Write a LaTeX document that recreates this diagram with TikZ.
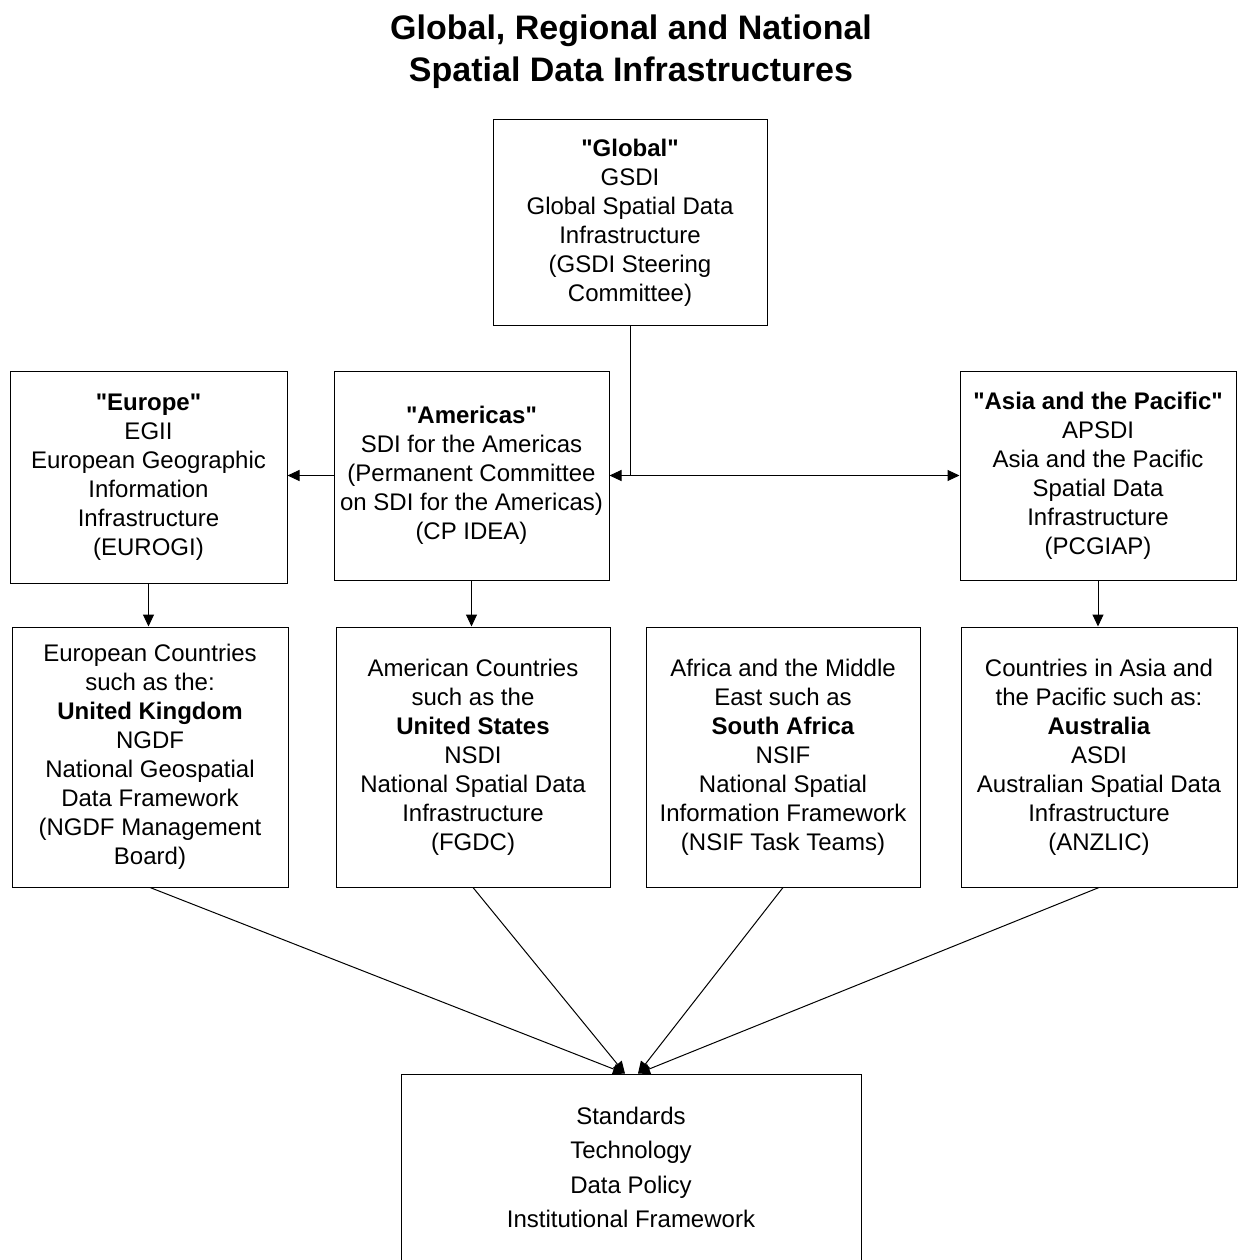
\documentclass[tikz,border=0pt]{standalone}
\usepackage{fontspec}
\setmainfont{Liberation Sans}
\newfontfamily\plainqf{Liberation Sans}
\usetikzlibrary{arrows.meta}
\newcommand{\qq}{{\plainqf"}}
\begin{document}
\begin{tikzpicture}[x=1pt,y=-1pt,
  box/.style={draw=black,line width=1pt,inner sep=0pt,align=center,
    font=\fontsize{24}{29}\selectfont},
  arr/.style={draw=black,line width=1pt,-{Triangle[length=12pt,width=11pt]}},
  ttl/.style={align=center,font=\fontsize{34}{42}\selectfont\bfseries}]
\useasboundingbox (0,0) rectangle (1242,1260);
\node[ttl] (title) at (631,52) {Global, Regional and National\\Spatial Data Infrastructures};
\node[box,minimum width=274pt,minimum height=205pt] (glob) at (630,222.5)
  {\textbf{\qq Global\qq}\\GSDI\\Global Spatial Data\\Infrastructure\\(GSDI Steering\\Committee)};
\node[box,minimum width=277pt,minimum height=212pt] (eur) at (148.5,477)
  {\textbf{\qq Europe\qq}\\EGII\\European Geographic\\Information\\Infrastructure\\(EUROGI)};
\node[box,minimum width=275pt,minimum height=209pt] (amer) at (471.5,475.5)
  {\textbf{\qq Americas\qq}\\SDI for the Americas\\(Permanent Committee\\on SDI for the Americas)\\(CP IDEA)};
\node[box,minimum width=276pt,minimum height=209pt] (asia) at (1098,475.5)
  {\textbf{\qq Asia and the Pacific\qq}\\APSDI\\Asia and the Pacific\\Spatial Data\\Infrastructure\\(PCGIAP)};
\node[box,minimum width=276pt,minimum height=260pt] (ec) at (150,757)
  {European Countries\\such as the:\\\textbf{United Kingdom}\\NGDF\\National Geospatial\\Data Framework\\(NGDF Management\\Board)};
\node[box,minimum width=274pt,minimum height=260pt] (ac) at (473,757)
  {American Countries\\such as the\\\textbf{United States}\\NSDI\\National Spatial Data\\Infrastructure\\(FGDC)};
\node[box,minimum width=274pt,minimum height=260pt] (af) at (783,757)
  {Africa and the Middle\\East such as\\\textbf{South Africa}\\NSIF\\National Spatial\\Information Framework\\(NSIF Task Teams)};
\node[box,minimum width=276pt,minimum height=260pt] (apc) at (1099,757)
  {Countries in Asia and\\the Pacific such as:\\\textbf{Australia}\\ASDI\\Australian Spatial Data\\Infrastructure\\(ANZLIC)};
\node[box,minimum width=460pt,minimum height=187pt,
  font=\fontsize{24}{34.3}\selectfont] (std) at (631,1167.5)
  {Standards\\Technology\\Data Policy\\Institutional Framework};
% connectors
\draw[arr] (glob.south) |- (amer.east);
\draw[arr] (glob.south) |- (asia.west);
\draw[arr] (amer.west) -- (amer.west -| eur.east);
\draw[arr] (eur.south) -- (eur.south |- ec.north);
\draw[arr] (amer.south) -- (amer.south |- ac.north);
\draw[arr] (asia.south) -- (asia.south |- apc.north);
\coordinate (tl) at ([xshift=-6pt]std.north);
\coordinate (tr) at ([xshift=7pt]std.north);
\draw[arr] (ec.south) -- (tl);
\draw[arr] (ac.south) -- (tl);
\draw[arr] (af.south) -- (tr);
\draw[arr] (apc.south) -- (tr);
\end{tikzpicture}
\end{document}
